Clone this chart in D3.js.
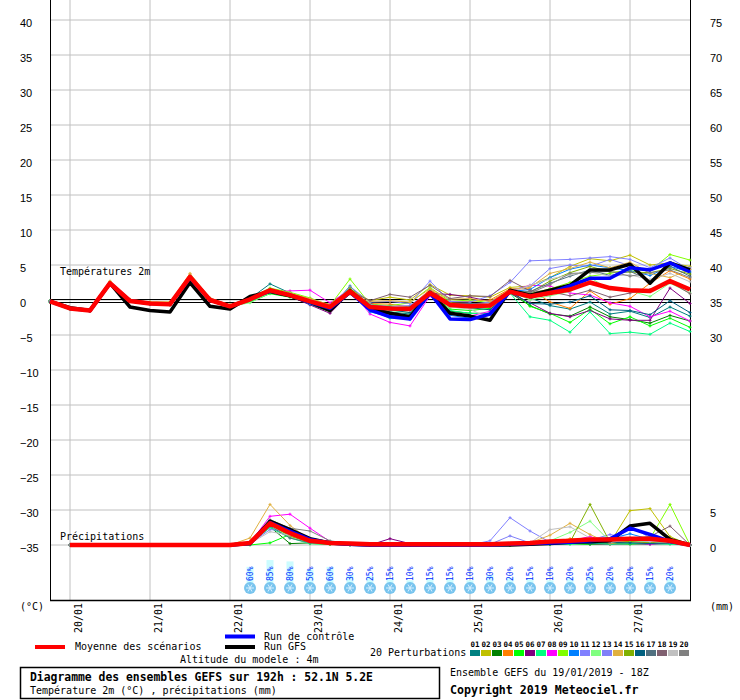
<!DOCTYPE html>
<html>
<head>
<meta charset="utf-8">
<script src="https://cdn.jsdelivr.net/npm/d3@7"></script>
<style>
  body { margin: 0; background: #fff; }
  svg { display: block; }
  .mono { font-family: "DejaVu Sans Mono", monospace; }
</style>
</head>
<body>
<div id="chart"></div>
<script>
// forecast steps (hours after 19/01 18Z)
const hours = [0,6,12,18,24,30,36,42,48,54,60,66,72,78,84,90,96,102,108,114,120,126,132,138,144,150,156,162,168,174,180,186,192];
const dateTicks = [6,30,54,78,102,126,150,174];
const dateLabels = ["20/01","21/01","22/01","23/01","24/01","25/01","26/01","27/01"];

// temperature 2m (°C)
const tMean    = [-0.2,-1.2,-1.5,2.4,-0.15,-0.5,-0.6,3.3,0,-0.9,0.1,1.4,0.7,-0.2,-1.0,1.2,-1.0,-1.2,-1.3,1.0,-0.7,-0.9,-0.8,1.2,0.5,1.0,1.5,2.5,1.7,1.4,1.3,2.7,1.5];
const tGfs     = [-0.2,-1.1,-1.5,2.4,-1.0,-1.5,-1.7,2.5,-0.9,-1.3,0.5,1.2,0.6,-0.3,-1.5,1.3,-1.2,-1.9,-2.4,1.1,-1.9,-2.3,-2.9,1.4,0.7,1.4,2.1,4.3,4.3,5.1,2.4,5.3,4.3];
const tControl = [-0.2,-1.2,-1.5,2.4,-0.1,-0.5,-0.6,3.2,0,-0.9,0.1,1.3,0.7,-0.3,-1.2,1.1,-1.4,-2.4,-2.7,1.0,-2.7,-2.8,-2.0,1.2,0.5,1.0,2.0,3.1,3.1,4.6,4.3,5.3,4.0];

// 20 perturbations, temperature
const tMembers = [
  [-0.1,-1.2,-1.5,2.5,-0.1,-0.4,-0.5,3.5,0.1,-0.9,0.2,2.3,1.0,-0.3,-1.3,2.0,-0.8,-1.7,-2.0,1.4,-0.4,-0.6,-1.0,1.3,0.3,-0.8,-1.3,-0.3,-2.0,-1.6,-2.5,-1.0,-2.3],
  [-0.2,-1.1,-1.4,2.6,0,-0.3,-0.3,3.4,0.2,-0.8,0.4,1.3,0.8,0.0,-0.6,1.6,-0.1,0.4,0.0,2.2,0.7,0.6,0.4,1.8,2.0,3.2,4.8,5.9,5.6,6.4,5.0,5.3,4.8],
  [-0.3,-1.3,-1.6,2.4,-0.2,-0.6,-0.7,3.2,-0.1,-1.0,0.0,1.6,0.5,-0.6,-1.7,0.9,-1.5,-2.0,-2.2,0.8,-1.6,-1.9,-1.9,1.0,-0.8,-2.0,-2.3,-1.0,-2.4,-2.8,-3.3,-2.2,-3.0],
  [-0.2,-1.2,-1.5,2.5,0,-0.4,-0.4,3.7,0.2,-0.8,0.2,1.2,0.9,0.2,-0.9,1.4,-0.5,-0.6,-1.0,1.5,-0.3,-0.2,0.0,1.6,1.6,-0.3,-1.2,1.3,-0.6,0.2,2.4,4.2,3.0],
  [-0.1,-1.1,-1.4,2.3,-0.1,-0.5,-0.6,3.0,0.1,-0.8,-0.3,0.9,0.4,-0.4,-1.2,1.3,-1.6,-2.2,-2.4,1.1,-1.3,-1.5,-1.2,1.5,-0.9,-1.9,-3.2,-1.3,-3.4,-2.4,-3.7,-2.6,-3.9],
  [-0.2,-1.2,-1.6,2.4,-0.2,-0.6,-0.7,3.1,-0.2,-1.0,0.1,1.1,0.5,-0.7,-1.9,1.0,-0.5,-1.2,-1.1,0.9,0.8,0.4,-0.2,1.0,-0.4,-1.9,-2.4,-1.5,-2.7,-2.9,-2.9,1.7,-0.5],
  [-0.3,-1.3,-1.5,2.4,-0.2,-0.5,-0.6,3.2,0.0,-1.1,-0.2,1.0,0.6,-0.5,-1.5,0.9,-1.4,-2.6,-2.5,0.7,-1.5,-1.9,-2.0,1.0,-2.4,-2.9,-4.6,-1.7,-4.8,-4.6,-4.9,-3.3,-4.5],
  [-0.2,-1.2,-1.5,2.5,-0.1,-0.5,-0.5,3.3,0.1,-0.9,0.1,1.2,1.3,1.4,-0.4,1.5,-2.0,-3.2,-3.7,0.6,-1.8,-2.3,-1.6,1.3,2.1,2.0,1.0,0.7,-0.4,-0.9,-2.4,-1.6,-3.0],
  [-0.2,-1.1,-1.4,2.6,0,-0.4,-0.5,3.4,0.1,-0.7,0.3,1.7,1.1,0.3,-0.8,3.0,-0.6,-0.8,-0.4,1.8,-0.2,0.0,-0.4,1.4,0.9,1.6,2.5,3.4,3.8,4.3,4.2,6.5,5.7],
  [-0.2,-1.2,-1.5,2.4,-0.1,-0.5,-0.6,3.3,0.0,-0.9,0.1,1.5,0.6,-0.6,-1.4,1.1,-1.7,-2.4,-2.8,0.8,-2.2,-2.6,-2.0,1.2,1.5,3.2,4.4,5.0,4.6,4.2,3.5,4.8,4.0],
  [-0.2,-1.2,-1.5,2.5,0,-0.4,-0.5,3.5,0.1,-0.8,0.2,1.3,0.9,0.1,-0.9,1.9,-0.3,-0.2,-0.5,2.7,-0.2,-0.3,0.6,2.5,5.6,5.7,5.8,6.0,6.2,5.8,4.6,6.0,4.3],
  [-0.2,-1.2,-1.5,2.4,-0.1,-0.5,-0.6,3.2,0.0,-0.9,-0.4,1.0,0.8,-0.2,-1.3,1.2,-1.1,-1.5,-1.8,0.9,-1.0,-1.2,-1.0,1.3,0.0,0.6,1.2,3.2,1.5,1.3,0.5,2.4,1.0],
  [-0.2,-1.2,-1.5,2.5,0,-0.4,-0.5,3.4,0.1,-0.9,0.2,1.4,0.8,0.0,-0.7,1.4,-0.7,-0.9,-0.8,1.3,-0.6,-0.6,-0.3,1.4,2.0,4.5,5.0,4.8,5.8,4.9,4.2,5.2,4.6],
  [-0.2,-1.1,-1.4,2.7,0.1,-0.3,-0.3,3.8,0.3,-0.7,0.3,1.5,0.9,0.2,-0.7,1.5,-0.2,-0.1,-0.3,1.6,0.1,0.2,-0.2,1.5,1.8,3.8,4.5,5.4,4.6,5.4,3.8,3.2,4.4],
  [-0.2,-1.2,-1.5,2.5,0,-0.4,-0.5,3.4,0.1,-0.8,0.1,1.3,0.7,-0.1,-1.0,1.7,-0.8,-1.0,-1.3,1.2,-0.8,-0.8,-0.9,1.3,1.1,2.7,3.9,4.8,4.0,4.0,3.9,4.5,3.7],
  [-0.2,-1.2,-1.5,2.4,-0.1,-0.5,-0.6,3.3,0.0,-0.9,0.0,1.4,0.6,-0.3,-1.1,1.1,-1.2,-1.4,-1.8,0.9,-0.9,-1.1,-1.4,1.2,-0.5,-0.6,-0.3,0.6,-1.4,-1.5,-2.1,-0.1,-1.8],
  [-0.2,-1.2,-1.5,2.4,-0.1,-0.5,-0.6,3.2,0.0,-0.9,0.1,1.3,0.6,-0.2,-1.0,1.0,-0.9,-1.1,-1.0,1.1,-0.5,-0.5,-0.6,1.1,1.2,2.4,3.4,4.3,3.5,4.1,2.8,4.8,3.4],
  [-0.2,-1.2,-1.5,2.4,-0.1,-0.5,-0.6,3.3,0.0,-0.9,0.1,1.3,0.7,-0.1,-0.9,1.3,-0.1,0.8,0.4,2.1,0.2,0.6,0.5,2.8,1.3,1.2,0.6,1.4,0.4,1.0,1.5,2.6,0.9],
  [-0.2,-1.2,-1.5,2.5,0,-0.5,-0.5,3.3,0.0,-0.8,0.1,1.4,0.8,-0.1,-1.2,1.2,-1.0,-1.3,-1.5,0.9,-1.0,-1.3,-2.7,1.0,2.1,3.0,3.6,4.0,3.4,3.6,2.9,3.8,2.6],
  [-0.2,-1.2,-1.5,2.4,-0.1,-0.5,-0.6,3.2,0.0,-0.9,0.0,1.3,0.6,-0.2,-1.1,1.2,-0.9,-1.0,-1.2,1.1,-0.7,-0.8,-0.9,1.2,1.0,2.2,3.8,3.9,4.1,3.4,3.9,4.3,3.2]
];

// precipitation (mm / 6h)
const pMean    = [null,0,0,0,0,0,0,0,0,0,0.3,3.1,1.7,0.6,0.3,0.2,0.1,0.1,0.1,0.1,0.1,0.1,0.1,0.2,0.3,0.5,0.6,0.8,0.8,0.9,0.9,0.6,0];
const pGfs     = [null,0,0,0,0,0,0,0,0,0,0.2,3.4,2.2,0.9,0.3,0.1,0,0,0,0,0,0,0,0,0.1,0.2,0.4,0.5,0.6,2.7,3.1,0.8,0];
const pControl = [null,0,0,0,0,0,0,0,0,0,0.2,3.2,2.0,0.8,0.3,0.1,0,0,0,0,0,0,0,0.1,0.2,0.3,0.4,0.6,0.9,2.4,1.5,0.5,0];
const pMembers = [
  [null,0,0,0,0,0,0,0,0,0,0.4,3.4,1.6,0.8,0.3,0.1,0,0,0,0,0,0,0,0.1,0.1,0.2,0.3,0.2,0.4,0.8,0.3,0.5,0],
  [null,0,0,0,0,0,0,0,0,0,0.2,3.0,1.2,0.5,0.2,0.1,0,0,0,0,0,0,0,0.1,0.2,0.6,0.8,1.0,0.3,4.9,5.2,1.2,0],
  [null,0,0,0,0,0,0,0,0,0,0.1,2.6,0.2,0.3,0.2,0,0,0,0,0,0,0,0.1,0.2,0.1,0.1,0.2,0.1,0.2,0.3,0.2,0.3,0],
  [null,0,0,0,0,0,0,0,0,0,0.2,3.2,1.8,0.7,0.3,0.1,0,0,0,0,0,0,0,0,0.1,0.4,0.9,0.6,0.3,0.5,0.7,0.5,0],
  [null,0,0,0,0,0,0,0,0,0,0,0.3,1.5,0.2,0.1,0.1,0,0,0,0,0,0,0,0,0.1,0.1,0.2,0.1,0.2,0.1,0.2,0.3,0],
  [null,0,0,0,0,0,0,0,0,0,0.1,3.0,1.4,0.6,0.2,0.1,0,0.9,0.2,0,0,0,0,0.1,0.1,0.2,0.3,0.2,0.1,0.2,0.1,0.2,0],
  [null,0,0,0,0,0,0,0,0,0,0.1,2.5,1.0,0.2,0.1,0,0,0,0,0,0,0,0,0.1,0.1,0.1,0.1,0.3,0.1,0.2,0.2,0.1,0],
  [null,0,0,0,0,0,0,0,0,0,0.3,4.1,4.4,2.4,0.5,0.2,0,0,0,0,0,0,0,0.1,0.2,0.4,0.6,1.2,0.4,0.6,0.1,0.5,0],
  [null,0,0,0,0,0,0,0,0,0,0.2,3.3,1.5,0.4,0.2,0.1,0,0,0,0,0,0,0,0.1,0.2,0.5,0.6,0.7,0.3,0.8,0.9,5.8,0],
  [null,0,0,0,0,0,0,0,0,0,0.2,3.5,1.7,0.5,0.2,0.1,0,0,0,0,0,0,0,0.1,0.2,0.3,0.5,0.6,0.9,1.6,0.8,0.6,0],
  [null,0,0,0,0,0,0,0,0,0,0.3,3.2,1.9,0.7,0.3,0.1,0,0,0,0,0,0,0.6,3.9,2.0,0.4,0.5,0.7,1.5,0.9,0.5,0.6,0],
  [null,0,0,0,0,0,0,0,0,0,0.1,2.8,1.1,0.3,0.2,0.1,0,0,0,0,0,0,0,0.1,0.2,0.6,1.8,3.4,0.5,0.6,0.4,0.3,0],
  [null,0,0,0,0,0,0,0,0,0,0.2,2.2,2.0,0.8,0.2,0.1,0,0,0,0,0,0,0.1,1.3,0.3,0.3,0.5,0.5,0.8,2.8,1.0,0.4,0],
  [null,0,0,0,0,0,0,0,0,0,1.0,5.8,2.8,0.7,0.3,0.1,0,0,0,0,0,0,0,0.1,0.3,1.4,3.1,1.5,0.2,0.6,0.8,0.9,0],
  [null,0,0,0,0,0,0,0,0,0,0.1,2.9,1.3,0.4,0.1,0.1,0,0,0,0,0,0,0,0,0.1,0.2,0.4,5.8,0.4,0.5,0.3,0.6,0],
  [null,0,0,0,0,0,0,0,0,0,0.2,3.0,1.6,0.9,0.5,0.1,0,0,0,0,0,0,0,0.1,0.1,0.2,0.3,0.2,0.4,0.3,0.2,0.3,0],
  [null,0,0,0,0,0,0,0,0,0,0.1,2.7,1.0,0.3,0.2,0,0,0,0,0,0,0,0,0.1,0.1,0.2,0.3,0.4,0.3,0.9,0.5,0.4,0],
  [null,0,0,0,0,0,0,0,0,0,0.2,3.1,1.5,0.6,0.2,0.1,0,0,0,0,0,0,0,0.1,0.1,0.3,0.5,0.5,0.6,1.0,1.2,2.7,0],
  [null,0,0,0,0,0,0,0,0,0,0.2,1.9,1.4,0.5,0.2,0.1,0,0,0,0,0,0,0,0.1,0.3,2.2,2.6,1.0,0.4,0.7,0.5,0.4,0],
  [null,0,0,0,0,0,0,0,0,0,0.2,3.6,2.4,2.0,0.6,0.2,0,0,0,0,0,0,0,0.1,0.2,0.4,0.6,0.6,0.7,1.0,0.8,0.9,0]
];

const memberNames = ["01","02","03","04","05","06","07","08","09","10","11","12","13","14","15","16","17","18","19","20"];
const memberColors = ["#008080","#c0c000","#008000","#ff8000","#00ff00","#800080","#00ff80","#ff00ff","#80ff00","#0080ff",
                      "#8080ff","#80ff80","#8080f8","#e0b040","#80b000","#006080","#507080","#806070","#c0c0c0","#808080"];

// snow probability (%), from +60h to +186h
const snowHours = [60,66,72,78,84,90,96,102,108,114,120,126,132,138,144,150,156,162,168,174,180,186];
const snowProb  = [60,85,80,50,60,30,25,15,10,15,15,10,30,20,15,10,20,25,20,20,15,20];

const tTicks = [-35,-30,-25,-20,-15,-10,-5,0,5,10,15,20,25,30,35,40];
const rTicks = [30,35,40,45,50,55,60,65,70,75];
const pTicks = [0,5];

const width = 740, height = 700;
const svg = d3.select("#chart").append("svg")
  .attr("width", width)
  .attr("height", height);

const x = d3.scaleLinear().domain([0, 192]).range([50, 690]);
const y = d3.scaleLinear().domain([-300/7, 300/7]).range([600, 0]);
const yR = d3.scaleLinear().domain([35 - 300/7, 35 + 300/7]).range([600, 0]);
const yP = d3.scaleLinear().domain([0, 5]).range([y(-35), y(-30)]);

// grid
svg.append("g").selectAll("line").data(tTicks).enter().append("line")
  .attr("x1", 50).attr("x2", 690)
  .attr("y1", d => y(d)).attr("y2", d => y(d))
  .attr("stroke", "#c0c0c0").attr("stroke-width", 1);
svg.append("g").selectAll("line").data(dateTicks).enter().append("line")
  .attr("x1", d => x(d)).attr("x2", d => x(d))
  .attr("y1", 0).attr("y2", 600)
  .attr("stroke", "#c0c0c0").attr("stroke-width", 1);

// double zero line
svg.append("line").attr("x1", 50).attr("x2", 690).attr("y1", y(0) - 0.5).attr("y2", y(0) - 0.5).attr("stroke", "#000");
svg.append("line").attr("x1", 50).attr("x2", 690).attr("y1", y(0) + 2.5).attr("y2", y(0) + 2.5).attr("stroke", "#000");

// axes
const tickFont = "Liberation Sans, Arial, sans-serif";
const leftAxis = svg.append("g").attr("transform", "translate(50,0)")
  .call(d3.axisLeft(y).tickValues(tTicks).tickSize(0).tickFormat(d3.format("d")));
leftAxis.select(".domain").remove();
leftAxis.selectAll("text")
  .attr("x", -30).attr("dy", "0.62em")
  .attr("text-anchor", "start")
  .attr("font-family", tickFont).attr("font-size", 11).attr("fill", "#000");

const rightAxis = svg.append("g").attr("transform", "translate(690,0)")
  .call(d3.axisRight(yR).tickValues(rTicks).tickSize(0).tickFormat(d3.format("d")));
const precipAxis = svg.append("g").attr("transform", "translate(690,0)")
  .call(d3.axisRight(yP).tickValues(pTicks).tickSize(0).tickFormat(d3.format("d")));
[rightAxis, precipAxis].forEach(a => {
  a.select(".domain").remove();
  a.selectAll("text")
    .attr("x", 20).attr("dy", "0.62em")
    .attr("font-family", tickFont).attr("font-size", 11).attr("fill", "#000");
});

const bottomAxis = svg.append("g").attr("transform", "translate(0,600)")
  .call(d3.axisBottom(x).tickValues(dateTicks).tickSize(0).tickFormat((d, i) => dateLabels[i]));
bottomAxis.select(".domain").remove();
bottomAxis.selectAll("text")
  .attr("transform", "rotate(-90)")
  .attr("x", -3).attr("y", 11).attr("dy", null)
  .attr("text-anchor", "end")
  .attr("class", "mono").attr("font-size", 10).attr("fill", "#000");

// frame
svg.append("line").attr("x1", 50.5).attr("x2", 50.5).attr("y1", 0).attr("y2", 601).attr("stroke", "#000");
svg.append("line").attr("x1", 690.5).attr("x2", 690.5).attr("y1", 0).attr("y2", 601).attr("stroke", "#000");
svg.append("line").attr("x1", 50).attr("x2", 691).attr("y1", 600.5).attr("y2", 600.5).attr("stroke", "#000").attr("stroke-width", 1.5);

// snow probability markers
const snow = svg.append("g").selectAll("g").data(snowHours).enter().append("g")
  .attr("transform", d => `translate(${x(d)},0)`);
snow.append("rect")
  .attr("x", -3.5).attr("width", 7)
  .attr("y", (d, i) => 583 - snowProb[i] * 0.27)
  .attr("height", (d, i) => snowProb[i] * 0.27)
  .attr("fill", "#ccfcff");
snow.append("text")
  .attr("transform", "rotate(-90)")
  .attr("x", -581).attr("y", 3)
  .attr("class", "mono").attr("font-size", 8).attr("fill", "#0030ff")
  .text((d, i) => snowProb[i] + "%");
snow.append("circle").attr("cx", 0).attr("cy", 588).attr("r", 6).attr("fill", "#78c4ee");
snow.append("path")
  .attr("d", "M-4,588H4M-2,584.5L2,591.5M-2,591.5L2,584.5")
  .attr("stroke", "#d8f0ff").attr("stroke-width", 1);

// series
const lineT = d3.line().x((d, i) => x(hours[i])).y(d => y(d));
const lineP = d3.line().defined(d => d !== null).x((d, i) => x(hours[i])).y(d => yP(d));

const members = svg.append("g");
memberColors.forEach((c, k) => {
  [[tMembers[k], lineT, y], [pMembers[k], lineP, yP]].forEach(([vals, gen, sc]) => {
    members.append("path").attr("d", gen(vals))
      .attr("fill", "none").attr("stroke", c).attr("stroke-width", 1);
    members.append("g").selectAll("path")
      .data(vals.map((v, i) => [hours[i], v]).filter(p => p[1] !== null))
      .enter().append("path")
      .attr("d", p => `M${x(p[0]) - 1.5},${sc(p[1])}h3M${x(p[0])},${sc(p[1]) - 1.5}v3`)
      .attr("stroke", c).attr("stroke-width", 1);
  });
});

const mainSeries = [
  [tGfs, pGfs, "#000000", 3.5],
  [tControl, pControl, "#0000ff", 3.5],
  [tMean, pMean, "#ff0000", 4.5]
];
mainSeries.forEach(([t, p, c, w]) => {
  svg.append("path").attr("d", lineT(t)).attr("fill", "none").attr("stroke", c).attr("stroke-width", w).attr("stroke-linejoin", "round");
  svg.append("path").attr("d", lineP(p)).attr("fill", "none").attr("stroke", c).attr("stroke-width", w).attr("stroke-linejoin", "round");
});

// labels inside the plot
const txt = (xx, yy, s, size, bold) => svg.append("text")
  .attr("x", xx).attr("y", yy).attr("class", "mono")
  .attr("font-size", size || 10).attr("font-weight", bold ? "bold" : "normal")
  .attr("fill", "#000").text(s);

txt(60, 275, "Températures 2m");
txt(60, 540, "Précipitations");
txt(20, 610, "(°C)");
txt(710, 610, "(mm)");

// legend
svg.append("rect").attr("x", 35).attr("y", 645).attr("width", 30).attr("height", 4).attr("fill", "#ff0000");
txt(75, 650, "Moyenne des scénarios");
svg.append("rect").attr("x", 225).attr("y", 634.5).attr("width", 30).attr("height", 4).attr("fill", "#0000ff");
txt(264, 640, "Run de contrôle");
svg.append("rect").attr("x", 225).attr("y", 645).attr("width", 30).attr("height", 4).attr("fill", "#000");
txt(264, 650, "Run GFS");
txt(180, 663, "Altitude du modele : 4m");
txt(370, 656, "20 Perturbations");

const sw = svg.append("g").selectAll("g").data(memberNames).enter().append("g")
  .attr("transform", (d, i) => `translate(${470 + i * 11},0)`);
sw.append("rect").attr("y", 650).attr("width", 10).attr("height", 6).attr("fill", (d, i) => memberColors[i]);
sw.append("text").attr("x", 5).attr("y", 646.5).attr("text-anchor", "middle")
  .attr("class", "mono").attr("font-size", 7.5).attr("font-weight", "bold").attr("fill", "#000")
  .text(d => d);

// title box
svg.append("rect").attr("x", 20.5).attr("y", 667.5).attr("width", 419).attr("height", 31)
  .attr("fill", "none").attr("stroke", "#000").attr("stroke-width", 1.5);
txt(30, 681, "Diagramme des ensembles GEFS sur 192h : 52.1N 5.2E", 11.4, true);
txt(30, 694, "Température 2m (°C) , précipitations (mm)");
txt(450, 676, "Ensemble GEFS du 19/01/2019 - 18Z");
txt(450, 694, "Copyright 2019 Meteociel.fr", 11.6, true);
</script>
</body>
</html>
